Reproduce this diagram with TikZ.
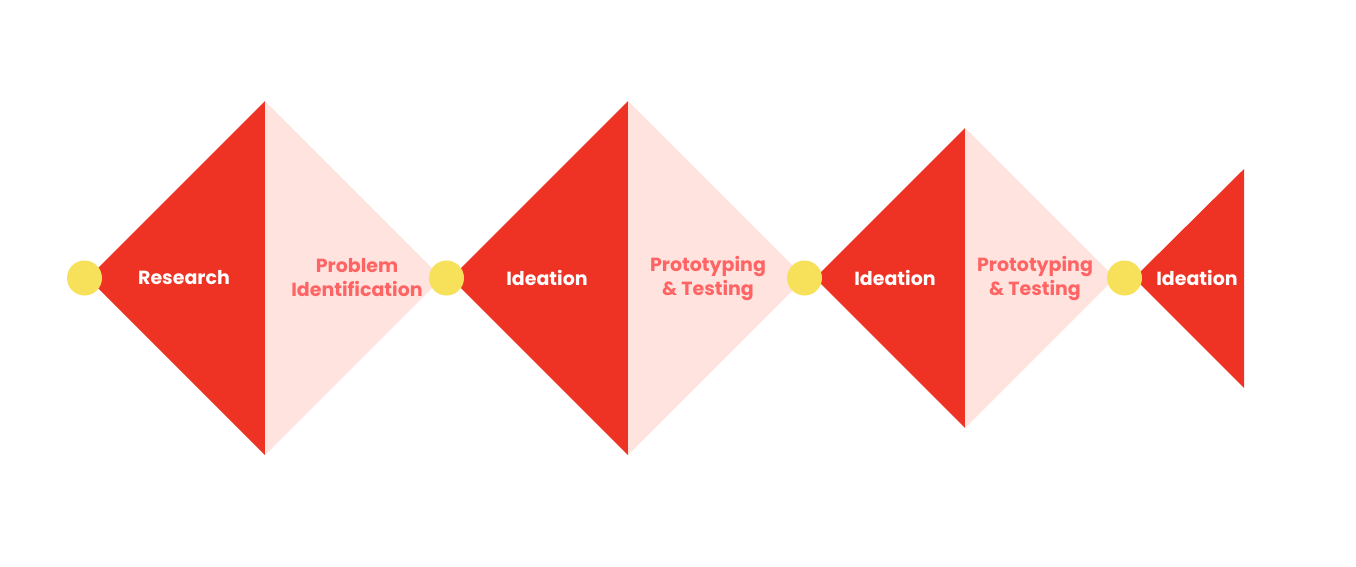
\documentclass[tikz,border=0pt]{standalone}
\usepackage{fontspec}
\setmainfont{Poppins}
\definecolor{flame}{HTML}{EE3224}
\definecolor{blush}{HTML}{FFE3DF}
\definecolor{sun}{HTML}{F7E15A}
\definecolor{salmon}{HTML}{FF6464}
\begin{document}
\begin{tikzpicture}[x=1pt,y=-1pt,
  darkhalf/.style={fill=flame,draw=none},
  lighthalf/.style={fill=blush,draw=none},
  dot/.style={circle,fill=sun,draw=none,minimum size=35pt,inner sep=0pt},
  darklabel/.style={text=white,font=\fontsize{19}{24}\selectfont\bfseries,align=center},
  lightlabel/.style={text=salmon,font=\fontsize{19}{24}\selectfont\bfseries,align=center}]
\useasboundingbox (0,0) rectangle (1356,566);
% first diamond
\fill[darkhalf] (88,278) -- (265,101) -- (265,455) -- cycle;
\fill[lighthalf] (265,101) -- (442,278) -- (265,455) -- cycle;
% second diamond
\fill[darkhalf] (451,278) -- (628,101) -- (628,455) -- cycle;
\fill[lighthalf] (628,101) -- (805,278) -- (628,455) -- cycle;
% third diamond
\fill[darkhalf] (815,278) -- (965,128) -- (965,428) -- cycle;
\fill[lighthalf] (965,128) -- (1115,278) -- (965,428) -- cycle;
% final half diamond
\fill[darkhalf] (1134,278) -- (1244,169) -- (1244,388) -- cycle;
% junction dots
\node[dot] (d1) at (84.5,278) {};
\node[dot] (d2) at (446.5,278) {};
\node[dot] (d3) at (804.5,278) {};
\node[dot] (d4) at (1124.5,278) {};
% labels
\node[darklabel] (t1) at (184,278) {Research};
\node[lightlabel] (t2) at (357,278) {Problem\\Identification};
\node[darklabel] (t3) at (547,278) {Ideation};
\node[lightlabel] (t4) at (708,278) {Prototyping\\\& Testing};
\node[darklabel] (t5) at (895,278) {Ideation};
\node[lightlabel] (t6) at (1035,278) {Prototyping\\\& Testing};
\node[darklabel] (t7) at (1197,278) {Ideation};
\end{tikzpicture}
\end{document}
